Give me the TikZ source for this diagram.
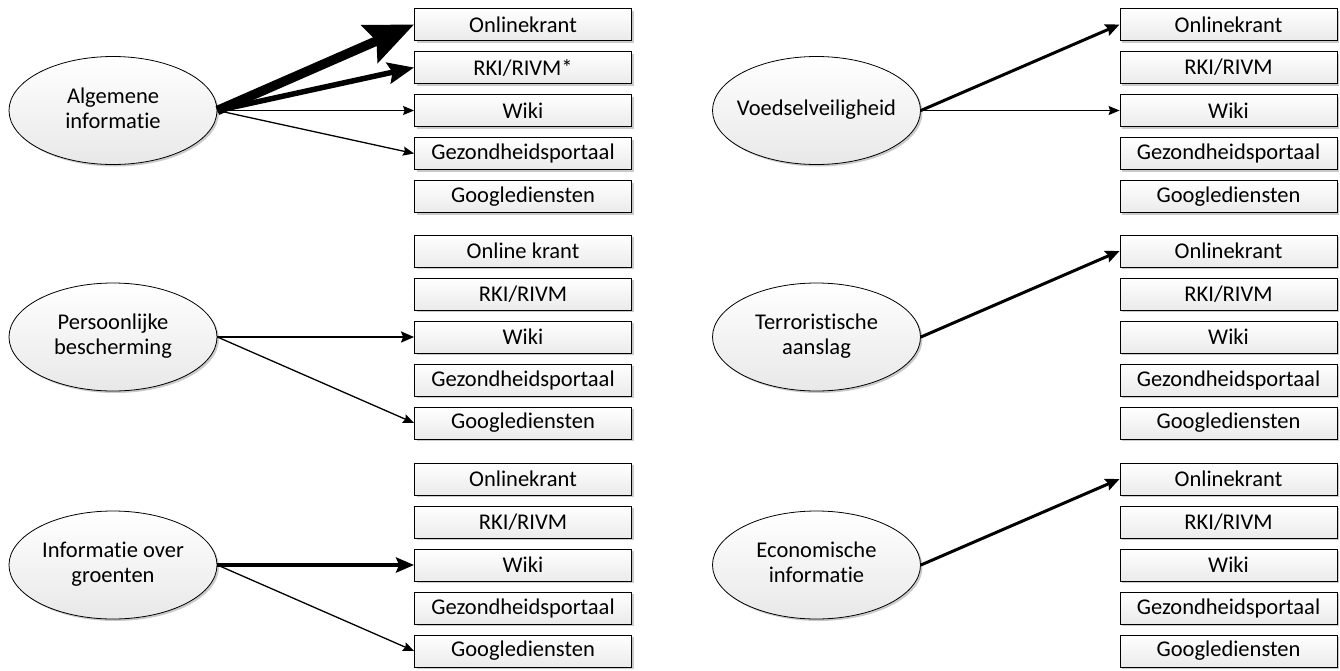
\documentclass[tikz,border=0pt]{standalone}
\usepackage{fontspec}
\setmainfont{Carlito}[Ligatures=NoCommon]
\usetikzlibrary{arrows.meta,shadows,shapes.geometric}
\newcommand\etext[1]{\makebox[0pt]{\begin{tabular}{@{}c@{}}#1\end{tabular}}}
\begin{document}
\begin{tikzpicture}[x=1pt,y=-1pt,
  shad/.style={drop shadow={shadow xshift=2pt,shadow yshift=-2pt,fill=gray!70,opacity=0.6}},
  src/.style={ellipse,draw,line width=0.8pt,minimum width=208pt,minimum height=108pt,inner sep=0pt,
    top color=white,bottom color=gray!18,shad,font=\fontsize{22.5}{25}\selectfont},
  tgt/.style={rectangle,draw,line width=0.8pt,minimum width=217pt,minimum height=32pt,inner sep=0pt,
    top color=white,bottom color=gray!16,shad,font=\fontsize{22.5}{25}\selectfont},
  wa/.style={line width=1.3pt,-{Stealth[length=11pt,width=9pt,inset=1.5pt]}},
  wb/.style={line width=2.2pt,-{Stealth[length=13pt,width=11pt,inset=2pt]}},
  wc/.style={line width=3pt,-{Stealth[length=14pt,width=12pt,inset=2pt]}},
  wd/.style={line width=4pt,-{Stealth[length=18pt,width=15pt,inset=3pt]}},
  we/.style={line width=5.5pt,-{Stealth[length=26pt,width=21pt,inset=4pt]}},
  wf/.style={line width=9.5pt,-{Stealth[length=48pt,width=40pt,inset=7pt]}}]
\useasboundingbox (0,0) rectangle (1340,670);

% boxes
\foreach \g/\b in {1/24.5,2/251,3/479}{
  \foreach \i/\t in {1/Onlinekrant,2/{RKI/RIVM},3/Wiki,4/Gezondheidsportaal,5/Googlediensten}{
    \node[tgt] (R\g-\i) at (1228.5,{\b+43*(\i-1)}) {\t};
  }
}
\node[tgt] (L1-1) at (523,24.5) {Onlinekrant};
\node[tgt] (L1-2) at (523,67.5) {RKI/RIVM*};
\node[tgt] (L1-3) at (523,110.5) {Wiki};
\node[tgt] (L1-4) at (523,153.5) {Gezondheidsportaal};
\node[tgt] (L1-5) at (523,196.5) {Googlediensten};
\node[tgt] (L2-1) at (523,251) {Online krant};
\node[tgt] (L2-2) at (523,294) {RKI/RIVM};
\node[tgt] (L2-3) at (523,337) {Wiki};
\node[tgt] (L2-4) at (523,380) {Gezondheidsportaal};
\node[tgt] (L2-5) at (523,423) {Googlediensten};
\node[tgt] (L3-1) at (523,479) {Onlinekrant};
\node[tgt] (L3-2) at (523,522) {RKI/RIVM};
\node[tgt] (L3-3) at (523,565) {Wiki};
\node[tgt] (L3-4) at (523,608) {Gezondheidsportaal};
\node[tgt] (L3-5) at (523,651) {Googlediensten};

% sources
\node[src] (A) at (113,110.5) {\etext{Algemene\\informatie}};
\node[src] (P) at (113,337) {\etext{Persoonlijke\\bescherming}};
\node[src] (G) at (113,565) {\etext{Informatie over\\groenten}};
\node[src] (V) at (816.5,110.5) {\etext{Voedselveiligheid}};
\node[src] (T) at (816.5,337) {\etext{Terroristische\\aanslag}};
\node[src] (E) at (816.5,565) {\etext{Economische\\informatie}};

% connectors
\draw[wf] (A.east) -- (L1-1.west);
\draw[we] (A.east) -- (L1-2.west);
\draw[wa] (A.east) -- (L1-3.west);
\draw[wa] (A.east) -- (L1-4.west);

\draw[wb] (P.east) -- (L2-3.west);
\draw[wa] (P.east) -- (L2-5.west);

\draw[wd] (G.east) -- (L3-3.west);
\draw[wa] (G.east) -- (L3-5.west);

\draw[wc] (V.east) -- (R1-1.west);
\draw[wa] (V.east) -- (R1-3.west);

\draw[wc] (T.east) -- (R2-1.west);
\draw[wc] (E.east) -- (R3-1.west);
\end{tikzpicture}
\end{document}
